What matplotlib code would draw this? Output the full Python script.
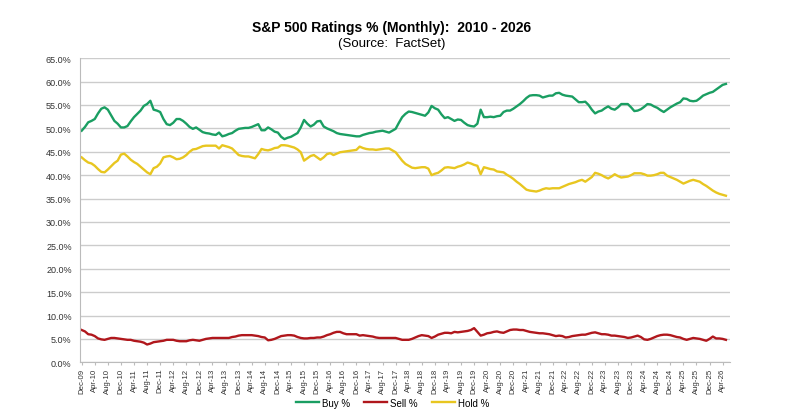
import numpy as np
import matplotlib
matplotlib.use("Agg")
import matplotlib.pyplot as plt

# monthly readings, Dec-09 onwards
buy = [49.5,
       50.3, 51.3, 51.6, 52.0, 53.2, 54.2, 54.5, 54.0, 52.8, 51.6, 51.0, 50.2,
       50.2, 50.5, 51.5, 52.4, 53.1, 53.8, 54.8, 55.2, 55.9, 54.0, 53.8, 53.5,
       52.0, 50.9, 50.7, 51.2, 52.0, 52.0, 51.6, 51.0, 50.3, 49.9, 50.2, 49.7,
       49.2, 49.0, 48.9, 48.7, 48.6, 49.1, 48.3, 48.5, 48.8, 49.0, 49.5, 49.9,
       50.0, 50.1, 50.1, 50.3, 50.6, 50.9, 49.6, 49.6, 50.2, 49.8, 49.3, 49.1,
       48.2, 47.7, 48.0, 48.2, 48.6, 49.0, 50.2, 51.8, 51.0, 50.4, 50.8, 51.5,
       51.6, 50.4, 50.0, 49.7, 49.4, 49.0, 48.8, 48.7, 48.6, 48.5, 48.4, 48.3,
       48.3, 48.6, 48.8, 49.0, 49.1, 49.3, 49.4, 49.5, 49.3, 49.1, 49.5, 49.9,
       51.2, 52.4, 53.1, 53.6, 53.5, 53.3, 53.1, 52.9, 52.7, 53.4, 54.8, 54.3,
       54.0, 53.0, 52.2, 52.4, 52.0, 51.6, 51.9, 51.8, 51.2, 50.7, 50.5, 50.4,
       51.0, 54.0, 52.4, 52.4, 52.5, 52.4, 52.6, 52.7, 53.5, 53.8, 53.8, 54.2,
       54.7, 55.2, 55.8, 56.5, 57.0, 57.1, 57.1, 57.0, 56.6, 56.8, 57.0, 57.0,
       57.5, 57.6, 57.2, 57.0, 56.9, 56.8, 56.2, 55.6, 55.6, 55.7, 55.0, 54.0,
       53.2, 53.6, 53.8, 54.3, 54.7, 54.2, 54.0, 54.5, 55.2, 55.2, 55.2, 54.5,
       53.7, 53.8, 54.1, 54.6, 55.2, 55.1, 54.7, 54.4, 53.9, 53.5, 54.0, 54.5,
       54.9, 55.3, 55.6, 56.4, 56.3, 55.9, 55.8, 55.9, 56.4, 57.0, 57.3, 57.6,
       57.8, 58.3, 58.8, 59.3, 59.5]

sell = [6.9,
        6.6, 6.0, 5.9, 5.6, 5.1, 4.9, 4.8, 5.0, 5.2, 5.2, 5.1, 5.0,
        4.9, 4.8, 4.8, 4.6, 4.5, 4.4, 4.2, 3.8, 4.0, 4.3, 4.4, 4.5,
        4.6, 4.8, 4.8, 4.8, 4.6, 4.5, 4.5, 4.5, 4.7, 4.8, 4.7, 4.6,
        4.8, 5.0, 5.1, 5.2, 5.2, 5.2, 5.2, 5.2, 5.2, 5.4, 5.5, 5.7,
        5.8, 5.8, 5.8, 5.8, 5.7, 5.6, 5.4, 5.3, 4.7, 4.8, 5.0, 5.3,
        5.6, 5.7, 5.8, 5.8, 5.7, 5.4, 5.2, 5.1, 5.1, 5.2, 5.2, 5.3,
        5.3, 5.5, 5.8, 6.0, 6.3, 6.5, 6.5, 6.2, 6.0, 6.0, 6.0, 6.0,
        5.7, 5.8, 5.7, 5.6, 5.5, 5.3, 5.2, 5.2, 5.2, 5.2, 5.2, 5.2,
        5.0, 4.8, 4.8, 4.8, 5.0, 5.3, 5.6, 5.8, 5.7, 5.6, 5.2, 5.5,
        5.9, 6.1, 6.3, 6.3, 6.2, 6.5, 6.4, 6.5, 6.6, 6.7, 6.9, 7.3,
        6.5, 5.7, 5.9, 6.2, 6.3, 6.5, 6.6, 6.4, 6.3, 6.6, 6.9, 7.0,
        7.0, 6.9, 6.9, 6.7, 6.5, 6.4, 6.3, 6.2, 6.2, 6.1, 6.0, 5.8,
        5.6, 5.7, 5.6, 5.3, 5.4, 5.6, 5.7, 5.8, 5.9, 5.9, 6.1, 6.3,
        6.4, 6.2, 6.0, 6.0, 5.9, 5.7, 5.7, 5.6, 5.5, 5.4, 5.2, 5.3,
        5.5, 5.7, 5.4, 4.9, 4.8, 5.0, 5.3, 5.6, 5.8, 5.9, 5.9, 5.8,
        5.6, 5.4, 5.3, 5.0, 4.8, 5.0, 5.2, 5.1, 5.0, 4.8, 4.6, 5.0,
        5.5, 5.1, 5.1, 5.0, 4.8]

hold = [43.8,
        43.2, 42.7, 42.5, 42.0, 41.3, 40.7, 40.6, 41.2, 41.9, 42.6, 43.1, 44.4,
        44.6, 44.0, 43.3, 42.8, 42.4, 41.8, 41.2, 40.6, 40.2, 41.5, 41.8, 42.5,
        43.8, 44.0, 44.1, 43.8, 43.4, 43.5, 43.8, 44.3, 45.0, 45.5, 45.6, 45.9,
        46.2, 46.3, 46.3, 46.3, 46.3, 45.7, 46.4, 46.2, 46.0, 45.7, 45.0, 44.3,
        44.1, 44.0, 44.0, 43.8, 43.6, 44.5, 45.6, 45.4, 45.3, 45.5, 45.8, 45.9,
        46.4, 46.4, 46.3, 46.1, 45.9, 45.5, 44.9, 43.1, 43.6, 44.1, 44.3, 43.8,
        43.3, 43.8, 44.5, 44.7, 44.3, 44.6, 44.9, 45.0, 45.1, 45.2, 45.3, 45.4,
        46.1, 45.8, 45.6, 45.5, 45.5, 45.4, 45.5, 45.6, 45.7, 45.7, 45.3, 44.9,
        44.0, 43.1, 42.4, 42.0, 41.6, 41.5, 41.6, 41.7, 41.7, 41.4, 40.0, 40.3,
        40.5, 41.0, 41.6, 41.7, 41.6, 41.5, 41.8, 42.0, 42.3, 42.7, 42.5, 42.2,
        42.0, 40.2, 41.7, 41.5, 41.3, 41.2, 40.8, 40.7, 40.6, 40.1, 39.7, 39.2,
        38.6, 38.1, 37.5, 36.9, 36.7, 36.6, 36.5, 36.7, 37.0, 37.2, 37.1, 37.2,
        37.2, 37.2, 37.5, 37.8, 38.1, 38.3, 38.5, 38.8, 39.0, 38.6, 39.1, 39.6,
        40.5, 40.3, 40.0, 39.6, 39.3, 39.7, 40.2, 39.8, 39.5, 39.6, 39.7, 40.0,
        40.4, 40.4, 40.4, 40.2, 39.9, 39.9, 40.0, 40.2, 40.5, 40.5, 39.9, 39.6,
        39.3, 39.0, 38.6, 38.2, 38.5, 38.8, 39.0, 38.8, 38.6, 38.1, 37.7, 37.2,
        36.7, 36.3, 36.0, 35.8, 35.6]

month_names = ["Jan", "Feb", "Mar", "Apr", "May", "Jun",
               "Jul", "Aug", "Sep", "Oct", "Nov", "Dec"]


def main():
    plt.rcParams['font.family'] = ['Liberation Sans', 'DejaVu Sans']

    n = len(buy)
    x = np.arange(n)
    labels = []
    for i in range(n):
        mi = (11 + i) % 12
        yr = 9 + (11 + i) // 12
        labels.append("%s-%02d" % (month_names[mi], yr))

    fig = plt.figure(figsize=(7.98, 4.14), dpi=100)
    ax = fig.add_axes([0.1003, 0.1225, 0.8147, 0.7345])

    ax.plot(x, buy, color='#1a9e62', lw=1.7, label='Buy %')
    ax.plot(x, sell, color='#b0171c', lw=1.7, label='Sell %')
    ax.plot(x, hold, color='#e8c620', lw=1.7, label='Hold %')

    ax.set_ylim(0, 65)
    ax.set_xlim(-0.5, 198.3)
    yt = np.arange(0, 70, 5)
    ax.set_yticks(yt)
    ax.set_yticklabels(["%.1f%%" % v for v in yt], fontsize=6.5, color='#333333')
    ticks = list(range(0, n, 4))
    ax.set_xticks(ticks)
    ax.set_xticklabels([labels[i] for i in ticks], rotation=90,
                       fontsize=5.6, color='#333333')
    ax.tick_params(axis='y', length=0, pad=6)
    ax.tick_params(axis='x', length=2, color='#bbbbbb', pad=2)

    ax.grid(axis='y', color='#cccccc', lw=1.0)
    ax.set_axisbelow(True)
    for s in ['top', 'right']:
        ax.spines[s].set_visible(False)
    ax.spines['left'].set_color('#bbbbbb')
    ax.spines['bottom'].set_color('#bbbbbb')

    fig.text(0.491, 0.932, "S&P 500 Ratings % (Monthly):  2010 - 2026",
             ha='center', va='center', fontsize=10, fontweight='bold')
    fig.text(0.491, 0.893, "(Source:  FactSet)", ha='center', va='center',
             fontsize=9.5)

    fig.legend(loc='center', bbox_to_anchor=(0.492, 0.025), ncol=3,
               frameon=False, fontsize=7, handlelength=2.4,
               handletextpad=0.3, columnspacing=1.4, borderpad=0)

    fig.savefig("out.png", dpi=100)


if __name__ == "__main__":
    main()
